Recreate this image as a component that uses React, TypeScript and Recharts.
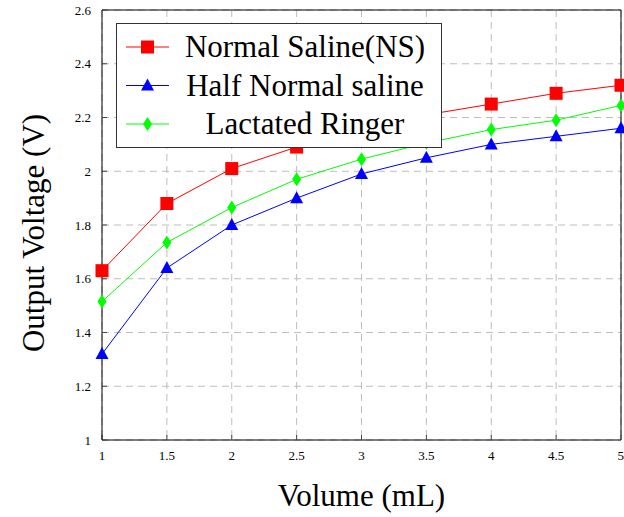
import React from "react";
import { LineChart, Line, XAxis, YAxis, CartesianGrid, Legend, ReferenceLine, Label } from "recharts";

const volumes = [1, 1.5, 2, 2.5, 3, 3.5, 4, 4.5, 5];
const normalSaline = [1.63, 1.88, 2.01, 2.09, 2.16, 2.21, 2.25, 2.29, 2.32];
const halfNormalSaline = [1.32, 1.64, 1.8, 1.9, 1.99, 2.05, 2.1, 2.13, 2.16];
const lactatedRinger = [1.515, 1.735, 1.865, 1.97, 2.045, 2.105, 2.155, 2.19, 2.245];

const xTicks = [1, 1.5, 2, 2.5, 3, 3.5, 4, 4.5, 5];
const yTicks = [1, 1.2, 1.4, 1.6, 1.8, 2, 2.2, 2.4, 2.6];

const seriesKeys = ["ns", "hns", "lr"];
const seriesNames = ["Normal Saline(NS)", "Half Normal saline", "Lactated Ringer"];

const data = volumes.map((v, i) => ({
  volume: v,
  ns: normalSaline[i],
  hns: halfNormalSaline[i],
  lr: lactatedRinger[i],
}));

const FONT = "'Liberation Serif', 'DejaVu Serif', serif";

function Square({ cx, cy, fill }: any) {
  if (cx == null || cy == null) return null;
  return <rect x={cx - 6.5} y={cy - 6.5} width={13} height={13} fill={fill} />;
}

function Triangle({ cx, cy, fill }: any) {
  if (cx == null || cy == null) return null;
  return <polygon points={`${cx},${cy - 7} ${cx - 6.5},${cy + 5} ${cx + 6.5},${cy + 5}`} fill={fill} />;
}

function Diamond({ cx, cy, fill }: any) {
  if (cx == null || cy == null) return null;
  return <polygon points={`${cx},${cy - 7} ${cx + 4.5},${cy} ${cx},${cy + 7} ${cx - 4.5},${cy}`} fill={fill} />;
}

const markers: Record<string, (p: any) => React.ReactElement | null> = {
  ns: (p) => <Square key={p.key} cx={p.cx} cy={p.cy} fill="#ff0000" />,
  hns: (p) => <Triangle key={p.key} cx={p.cx} cy={p.cy} fill="#0000ff" />,
  lr: (p) => <Diamond key={p.key} cx={p.cx} cy={p.cy} fill="#00ff00" />,
};

function LegendBox({ payload }: any) {
  const items = [...(payload || [])].sort(
    (a: any, b: any) => seriesKeys.indexOf(a.dataKey) - seriesKeys.indexOf(b.dataKey)
  );
  return (
    <svg width={327} height={126} style={{ display: "block" }}>
      <rect x={0.5} y={0.5} width={325} height={124} fill="#fff" stroke="#333" strokeWidth={1} />
      {items.map((item: any, i: number) => {
        const y = 24 + i * 38.5;
        const key = item.dataKey as string;
        const color = item.color;
        return (
          <g key={key}>
            <line x1={10} x2={53} y1={y} y2={y} stroke={color} strokeWidth={1} />
            {markers[key]({ cx: 31.5, cy: y, key: "m" })}
            <text x={189} y={y + 10} textAnchor="middle" fontFamily={FONT} fontSize={31} fill="#000">
              {item.value}
            </text>
          </g>
        );
      })}
    </svg>
  );
}

export default function App() {
  return (
    <div style={{ position: "absolute", left: 0, top: 0, background: "#fff" }}>
      <LineChart width={624} height={517} data={data} margin={{ top: 10, right: 3, left: 0, bottom: 0 }}>
        <CartesianGrid stroke="#bdbdbd" strokeDasharray="7 5" />
        <XAxis
          dataKey="volume"
          type="number"
          domain={[1, 5]}
          ticks={xTicks}
          height={77}
          tickSize={-5}
          tickMargin={16}
          tickLine={{ stroke: "#444" }}
          axisLine={{ stroke: "#000" }}
          tick={{ fontSize: 13, fontFamily: FONT, fill: "#000" }}
        >
          <Label
            value="Volume (mL)"
            position="insideBottom"
            offset={11}
            style={{ fontSize: 31, fontFamily: FONT, fill: "#000" }}
          />
        </XAxis>
        <YAxis
          type="number"
          domain={[1, 2.6]}
          ticks={yTicks}
          width={102}
          tickSize={-5}
          tickMargin={16}
          tickLine={{ stroke: "#444" }}
          axisLine={{ stroke: "#000" }}
          tick={{ fontSize: 13, fontFamily: FONT, fill: "#000" }}
        >
          <Label
            content={({ viewBox }: any) => {
              const cx = 33;
              const cy = viewBox ? viewBox.y + viewBox.height / 2 + 8 : 233;
              return (
                <text
                  x={cx}
                  y={cy}
                  textAnchor="middle"
                  dominantBaseline="central"
                  transform={`rotate(-90 ${cx} ${cy})`}
                  fontSize={31}
                  fontFamily={FONT}
                  fill="#000"
                >
                  Output Voltage (V)
                </text>
              );
            }}
          />
        </YAxis>
        <ReferenceLine y={2.6} stroke="#000" />
        <ReferenceLine x={5} stroke="#000" />
        <Legend
          verticalAlign="middle"
          align="center"
          layout="horizontal"
          wrapperStyle={{ left: 116, top: 23, width: 327, height: 126 }}
          content={<LegendBox />}
        />
        <Line
          name={seriesNames[0]}
          dataKey="ns"
          stroke="#ff0000"
          strokeWidth={1}
          dot={markers.ns}
          activeDot={false}
          isAnimationActive={false}
        />
        <Line
          name={seriesNames[1]}
          dataKey="hns"
          stroke="#0000ff"
          strokeWidth={1}
          dot={markers.hns}
          activeDot={false}
          isAnimationActive={false}
        />
        <Line
          name={seriesNames[2]}
          dataKey="lr"
          stroke="#00ff00"
          strokeWidth={1}
          dot={markers.lr}
          activeDot={false}
          isAnimationActive={false}
        />
      </LineChart>
    </div>
  );
}
